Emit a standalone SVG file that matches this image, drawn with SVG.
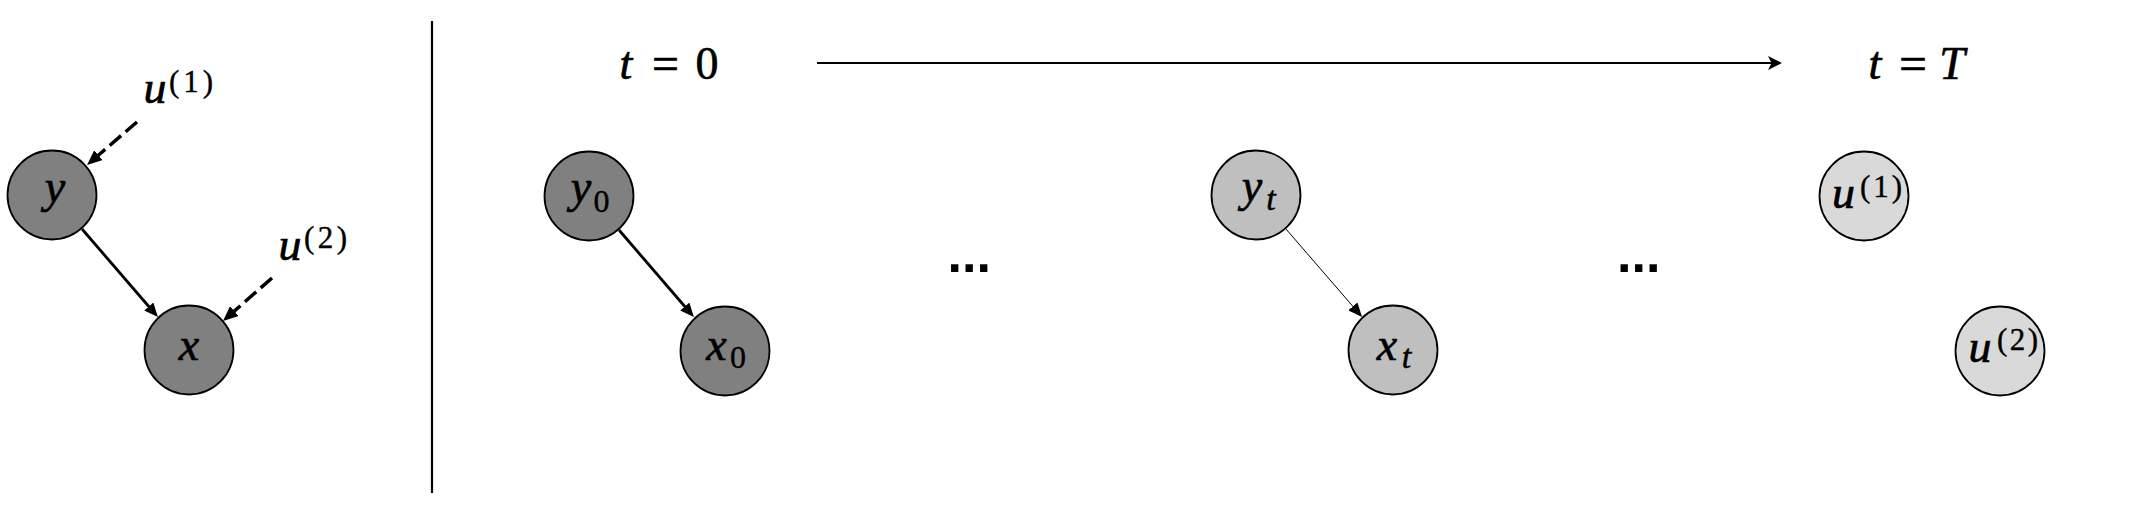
<svg xmlns="http://www.w3.org/2000/svg" width="2130" height="516" viewBox="0 0 2130 516">
<style>
.n{stroke:#000;stroke-width:1.8}
.dark{fill:#808080}
.mid{fill:#bfbfbf}
.light{fill:#d9d9d9}
.m{font-family:"Liberation Serif","Times New Roman",serif;font-style:italic;font-size:46px;fill:#000;stroke:#000;stroke-width:0.7}
.r{font-family:"Liberation Serif","Times New Roman",serif;font-size:46px;fill:#000;stroke:#000;stroke-width:0.6}
.sub{font-family:"Liberation Serif","Times New Roman",serif;font-size:32px;fill:#000;stroke:#000;stroke-width:0.4}
.subi{font-family:"Liberation Serif","Times New Roman",serif;font-style:italic;font-size:34px;fill:#000;stroke:#000;stroke-width:0.5}
.sup{font-family:"Liberation Serif","Times New Roman",serif;font-size:31px;fill:#000;stroke:#000;stroke-width:0.4}
.dots{font-family:"Liberation Sans",Arial,sans-serif;font-weight:bold;font-size:52px;fill:#000}
.c{fill:none;stroke:#000}
</style>
<defs>
<marker id="ah" markerUnits="userSpaceOnUse" markerWidth="14" markerHeight="12" refX="2" refY="6" orient="auto">
<path d="M0,0 L14,6 L0,12 z" fill="#000"/>
</marker>
<marker id="ahd" markerUnits="userSpaceOnUse" markerWidth="15" markerHeight="13" refX="2" refY="6.5" orient="auto">
<path d="M0,0 L15,6.5 L0,13 z" fill="#000"/>
</marker>
<marker id="ahs" markerUnits="userSpaceOnUse" markerWidth="14" markerHeight="14" refX="4" refY="7" orient="auto">
<path d="M0,0 L14,7 L0,14 L3.5,7 z" fill="#000"/>
</marker>
</defs>

<line x1="432" y1="21" x2="432" y2="493" stroke="#000" stroke-width="2.2"/>

<g id="connectors">
<line class="c" x1="137" y1="122" x2="96.9" y2="156.5" stroke-width="3.5" stroke-dasharray="15 6" marker-end="url(#ahd)"/>
<line class="c" x1="272" y1="278" x2="232.8" y2="312.4" stroke-width="3.5" stroke-dasharray="15 6" marker-end="url(#ahd)"/>
<line class="c" x1="82" y1="229" x2="150.1" y2="308" stroke-width="2.8" marker-end="url(#ah)"/>
<line class="c" x1="619" y1="230" x2="686.1" y2="308" stroke-width="2.8" marker-end="url(#ah)"/>
<line class="c" x1="1286" y1="229" x2="1354.2" y2="307.9" stroke-width="1" marker-end="url(#ah)"/>
<line class="c" x1="817" y1="63" x2="1772" y2="63" stroke-width="2.2" marker-end="url(#ahs)"/>
</g>

<g id="label-u1">
<text class="m" x="155" y="103" text-anchor="middle">u</text>
<text class="sup" x="169" y="92" textLength="44" lengthAdjust="spacing">(1)</text>
</g>
<g id="label-u2">
<text class="m" x="290" y="260" text-anchor="middle">u</text>
<text class="sup" x="304" y="248" textLength="43" lengthAdjust="spacing">(2)</text>
</g>

<g id="node-y">
<circle class="n dark" cx="52" cy="195" r="44.5"/>
<text class="m" x="55" y="202" text-anchor="middle">y</text>
</g>
<g id="node-x">
<circle class="n dark" cx="189" cy="350" r="44.5"/>
<text class="m" x="189" y="360" text-anchor="middle">x</text>
</g>

<g id="label-t0">
<text class="m" x="626" y="79" text-anchor="middle">t</text>
<text class="r" x="652" y="79" textLength="27" lengthAdjust="spacingAndGlyphs">=</text>
<text class="r" x="707" y="79" text-anchor="middle">0</text>
</g>
<g id="label-tT">
<text class="m" x="1875" y="79" text-anchor="middle">t</text>
<text class="r" x="1899" y="79" textLength="28" lengthAdjust="spacingAndGlyphs">=</text>
<text class="m" x="1952" y="79" text-anchor="middle">T</text>
</g>

<g id="node-y0">
<circle class="n dark" cx="589" cy="196" r="44.5"/>
<text class="m" x="581" y="202" text-anchor="middle">y</text>
<text class="sub" x="601.5" y="212" text-anchor="middle">0</text>
</g>
<g id="node-x0">
<circle class="n dark" cx="725" cy="351" r="44.5"/>
<text class="m" x="716.5" y="360" text-anchor="middle">x</text>
<text class="sub" x="738" y="368" text-anchor="middle">0</text>
</g>

<text class="dots" x="947.5" y="272">...</text>

<g id="node-yt">
<circle class="n mid" cx="1256" cy="195" r="44.5"/>
<text class="m" x="1252" y="201" text-anchor="middle">y</text>
<text class="subi" x="1271" y="210" text-anchor="middle">t</text>
</g>
<g id="node-xt">
<circle class="n mid" cx="1393" cy="350" r="44.5"/>
<text class="m" x="1387" y="360" text-anchor="middle">x</text>
<text class="subi" x="1406.5" y="368" text-anchor="middle">t</text>
</g>

<text class="dots" x="1617" y="272">...</text>

<g id="node-u1">
<circle class="n light" cx="1864" cy="196" r="44.5"/>
<text class="m" x="1843.5" y="208" text-anchor="middle">u</text>
<text class="sup" x="1860" y="197" textLength="42" lengthAdjust="spacing">(1)</text>
</g>
<g id="node-u2">
<circle class="n light" cx="2000" cy="351" r="44.5"/>
<text class="m" x="1980" y="362" text-anchor="middle">u</text>
<text class="sup" x="1997" y="350" textLength="41" lengthAdjust="spacing">(2)</text>
</g>
</svg>
